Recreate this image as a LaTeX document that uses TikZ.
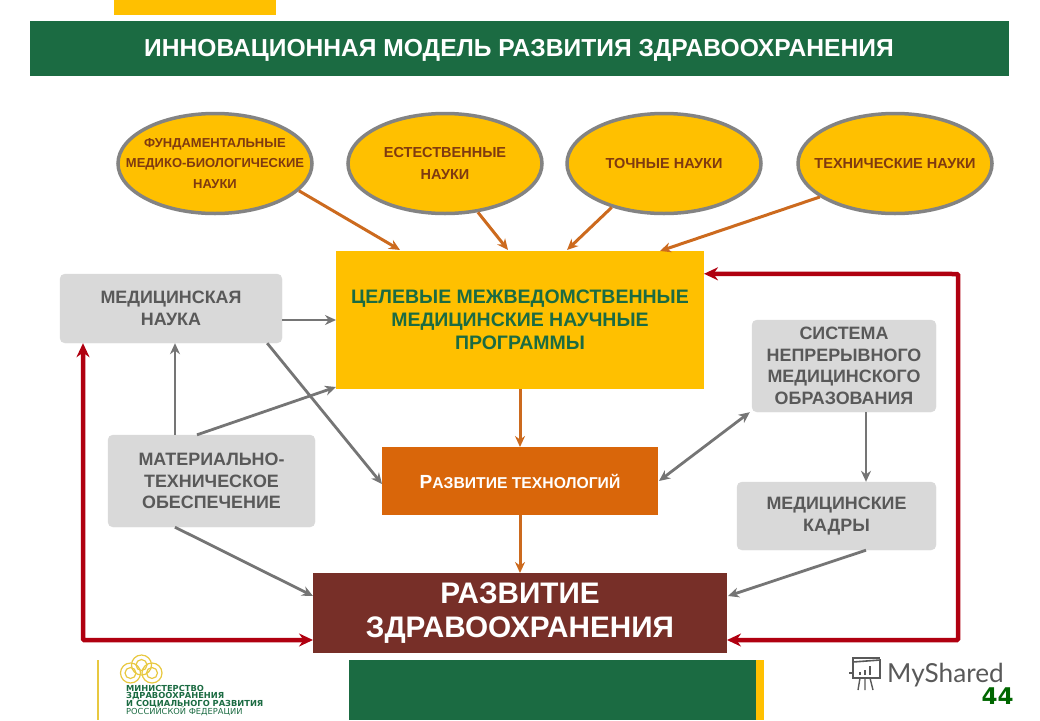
\documentclass[tikz,border=0pt]{standalone}
\usepackage{fontspec}
\setmainfont{Liberation Sans}
\newfontfamily\logofont{DejaVu Sans}
\newfontfamily\sharefont{Lato}
\usetikzlibrary{shapes, arrows, arrows.meta, positioning}
\definecolor{bargreen}{HTML}{1B6B42}
\definecolor{sunyellow}{HTML}{FFC000}
\definecolor{techorange}{HTML}{D9660A}
\definecolor{devbrown}{HTML}{772F28}
\definecolor{arrowred}{HTML}{B00010}
\definecolor{arrowgrey}{HTML}{757575}
\definecolor{arroworange}{HTML}{CC6A1E}
\definecolor{boxgrey}{HTML}{D9D9D9}
\definecolor{textgrey}{HTML}{595959}
\definecolor{textbrown}{HTML}{7F3A10}
\definecolor{logoyellow}{HTML}{E8C840}
\tikzset{
  plainbar/.style={inner sep=0pt, outer sep=0pt},
  sciencenode/.style={draw=arrowgrey!90, line width=3.5pt, ellipse, fill=sunyellow, minimum width=194pt, minimum height=100pt, inner xsep=-40pt, inner ysep=-20pt, align=center, text=textbrown, font=\bfseries\fontsize{14.5}{20}\selectfont},
  greynode/.style={rounded corners=5pt, fill=boxgrey, draw=boxgrey, align=center, text=textgrey, inner sep=0pt, font=\bfseries\fontsize{17.9}{21.5}\selectfont},
  oarrow/.style={-{Stealth[length=11pt,width=10pt]}, line width=3pt, draw=arroworange},
  garrow/.style={-{Stealth[length=11pt,width=10pt]}, line width=2.8pt, draw=arrowgrey},
  gboth/.style={{Stealth[length=11pt,width=10pt]}-{Stealth[length=11pt,width=10pt]}, line width=2.8pt, draw=arrowgrey},
  rarrow/.style={{Stealth[length=14pt,width=13pt]}-{Stealth[length=14pt,width=13pt]}, line width=4.5pt, draw=arrowred, rounded corners=1pt},
  logoline/.style={anchor=base west, inner sep=0pt, text=bargreen, font=\logofont\bfseries\fontsize{8.3}{8}\selectfont}
}
\begin{document}
\begin{tikzpicture}[x=1pt, y=-1pt]
\useasboundingbox (0,0) rectangle (1040,720);

% Header
\node[plainbar, fill=sunyellow, minimum width=162pt, minimum height=15pt] (topflag) at (195,7.5) {};
\node[plainbar, fill=bargreen, minimum width=979pt, minimum height=55pt] (titlebar) at (519.5,48.5) {};
\node[anchor=west, inner sep=0pt, text=white, font=\bfseries\fontsize{24.6}{26}\selectfont] (title) at (144,50) {ИННОВАЦИОННАЯ МОДЕЛЬ РАЗВИТИЯ ЗДРАВООХРАНЕНИЯ};

% Sciences
\node[sciencenode, font=\bfseries\fontsize{13}{20.5}\selectfont] (fund) at (215,163.5) {ФУНДАМЕНТАЛЬНЫЕ\\МЕДИКО-БИОЛОГИЧЕСКИЕ\\НАУКИ};
\node[sciencenode, font=\bfseries\fontsize{14.5}{22}\selectfont] (natural) at (445,163.5) {ЕСТЕСТВЕННЫЕ\\НАУКИ};
\node[sciencenode] (exact) at (664,163.5) {ТОЧНЫЕ НАУКИ};
\node[sciencenode] (technical) at (895,163.5) {ТЕХНИЧЕСКИЕ НАУКИ};

% Main boxes
\node[plainbar, fill=sunyellow, minimum width=368pt, minimum height=138pt, align=center, text=bargreen, font=\bfseries\fontsize{19.5}{23}\selectfont] (prog) at (520,320) {ЦЕЛЕВЫЕ МЕЖВЕДОМСТВЕННЫЕ\\МЕДИЦИНСКИЕ НАУЧНЫЕ\\ПРОГРАММЫ};
\node[plainbar, fill=techorange, minimum width=276pt, minimum height=68pt, text=white, font=\bfseries\fontsize{15.7}{16}\selectfont] (tech) at (520,481) {{\fontsize{19}{16}\selectfont Р}АЗВИТИЕ ТЕХНОЛОГИЙ};
\node[plainbar, fill=devbrown, minimum width=414pt, minimum height=80pt, align=center, text=white, font=\bfseries\fontsize{29.7}{34}\selectfont] (dev) at (520,613) {РАЗВИТИЕ\\ЗДРАВООХРАНЕНИЯ};

% Grey boxes
\node[greynode, minimum width=222pt, minimum height=69pt] (medsci) at (171,308.5) {МЕДИЦИНСКАЯ\\НАУКА};
\node[greynode, minimum width=207pt, minimum height=92pt] (matbase) at (211.5,481) {МАТЕРИАЛЬНО-\\ТЕХНИЧЕСКОЕ\\ОБЕСПЕЧЕНИЕ};
\node[greynode, minimum width=184pt, minimum height=92pt] (system) at (844,366) {СИСТЕМА\\НЕПРЕРЫВНОГО\\МЕДИЦИНСКОГО\\ОБРАЗОВАНИЯ};
\node[greynode, minimum width=199pt, minimum height=68pt] (staff) at (836.5,516) {МЕДИЦИНСКИЕ\\КАДРЫ};

% Free ends
\coordinate (progfund) at (400,250);
\coordinate (prognat) at (508,250);
\coordinate (progexact) at (567,250);
\coordinate (progtech) at (660,251);

% Edges
\draw[oarrow] (fund.-18) -- (progfund);
\draw[oarrow] (natural.-56) -- (prognat);
\draw[oarrow] (exact.-140) -- (progexact);
\draw[oarrow] (technical.-156) -- (progtech);
\draw[oarrow] (prog.south) -- (tech.north);
\draw[oarrow] (tech.south) -- (dev.north);

\draw[garrow] ([yshift=-11.5pt]medsci.east) -- ([yshift=-11.5pt]medsci.east -| prog.west);
\draw[garrow] ([xshift=-15pt]medsci.south east) -- ([yshift=-3pt]tech.west);
\draw[garrow] ([xshift=-36.5pt]matbase.north) -- ([xshift=-36.5pt]matbase.north |- medsci.south);
\draw[garrow] ([xshift=-14.5pt]matbase.north) -- ([yshift=2pt]prog.south west);
\draw[garrow] ([xshift=-36.5pt]matbase.south) -- ([yshift=17pt]dev.west);
\draw[gboth] ([xshift=-2pt]system.south west) -- ([xshift=1pt]tech.east);
\draw[garrow] ([xshift=22pt]system.south) -- ([xshift=22pt]system.south |- staff.north);
\draw[garrow] ([xshift=29.5pt]staff.south) -- ([yshift=17pt,xshift=1pt]dev.east);

\draw[rarrow] ([xshift=-88pt]medsci.south) |- ([yshift=-27pt]dev.west);
\draw[rarrow] (prog.east |- medsci.north) -- (958,274) |- ([yshift=-27pt]dev.east);

% Footer
\node[plainbar, fill=bargreen, minimum width=407pt, minimum height=60pt] (footbar) at (552.5,690) {};
\node[plainbar, fill=sunyellow, minimum width=8pt, minimum height=60pt] (footflag) at (760,690) {};
\draw[logoyellow, line width=1.2pt] (98,660) -- (98,720);
\foreach \cx/\cy in {141.5/665, 130.5/673, 152/673} {
  \draw[logoyellow, line width=1.2pt] (\cx,\cy) circle[radius=10pt];
  \draw[logoyellow, line width=1.2pt] (\cx,\cy) circle[radius=5.5pt];
}
\node[logoline] (logoa) at (126,691.3) {МИНИСТЕРСТВО};
\node[logoline] (logob) at (126,698.8) {ЗДРАВООХРАНЕНИЯ};
\node[logoline] (logoc) at (126,706.3) {И СОЦИАЛЬНОГО РАЗВИТИЯ};
\node[logoline, font=\logofont\fontsize{8.3}{8}\selectfont] (logod) at (126,714) {РОССИЙСКОЙ ФЕДЕРАЦИИ};

% Watermark
\draw[textgrey, line width=1.6pt] (853,662) -- (880,660) -- (880,678) -- (853,678) -- cycle;
\draw[textgrey, line width=1.6pt] (849,673) -- (853,673) (853,662) -- (853,658) -- (880,658);
\draw[textgrey, line width=2pt] (860,675) -- (860,672) (865,675) -- (865,670) (870,675) -- (870,666);
\draw[textgrey, line width=1.4pt] (858,690) -- (860,678) (865,690) -- (865,678) (873,690) -- (870,678);
\node[anchor=west, inner sep=0pt, text=textgrey, font=\sharefont\fontsize{26.2}{30}\selectfont] (share) at (887,675) {MyShared};
\node[anchor=center, inner sep=0pt, text=green!40!black, font=\logofont\bfseries\fontsize{23}{24}\selectfont] (pagenum) at (997.5,696) {44};

\end{tikzpicture}
\end{document}
